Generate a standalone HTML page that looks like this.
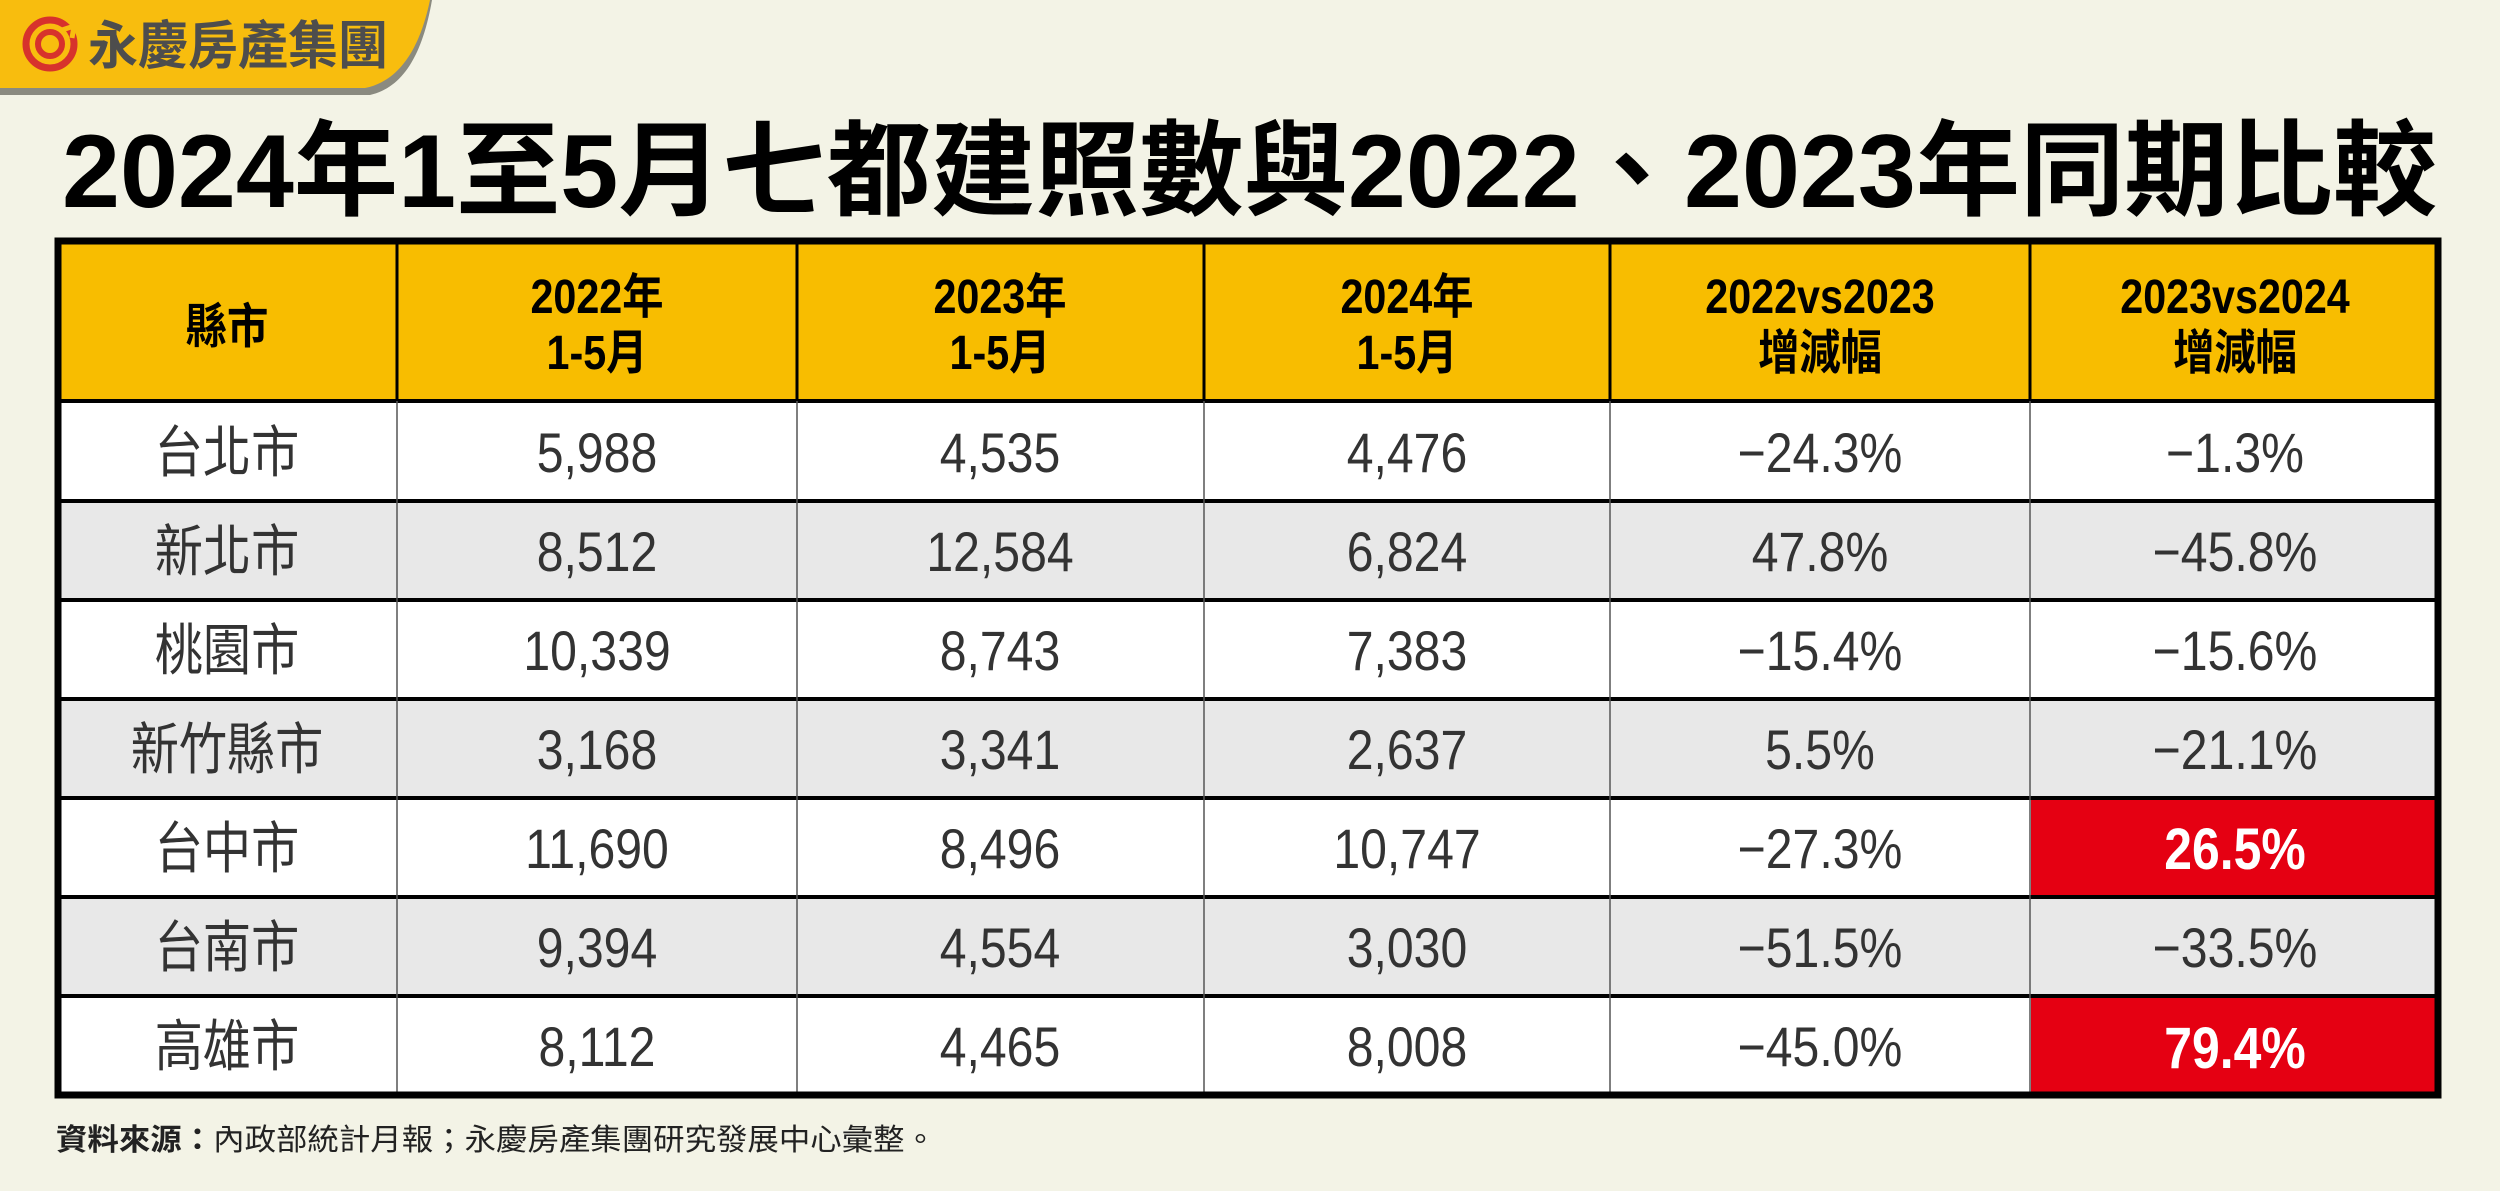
<!DOCTYPE html>
<html><head><meta charset="utf-8"><style>
html,body{margin:0;padding:0;background:#f3f3e6;}
svg{display:block;}
text{font-family:"Liberation Sans","Noto Sans CJK TC",sans-serif;}
.b text{transform-box:fill-box;transform-origin:center;transform:scaleX(0.86);}
</style></head><body>
<svg width="2500" height="1191" viewBox="0 0 2500 1191" xmlns="http://www.w3.org/2000/svg">
<rect width="2500" height="1191" fill="#f3f3e6"/>
<!-- logo tab -->
<path d="M0,0 H432 C425,40 410,86 370,95 H0 Z" fill="#8a8a80"/>
<path d="M0,0 H430 C422,38 405,80 365,88 H0 Z" fill="#f8bd0e"/>
<circle cx="50" cy="44" r="24" fill="none" stroke="#d7322c" stroke-width="7"/>
<circle cx="50" cy="44" r="12" fill="none" stroke="#d7322c" stroke-width="6"/>
<path d="M62,30 l12,-4 l-2,12" fill="none" stroke="#f8bd0e" stroke-width="5"/>
<text x="88" y="64" font-size="52" font-weight="bold" fill="#4d4d4d" textLength="300" lengthAdjust="spacingAndGlyphs">永慶房產集團</text>
<!-- title -->
<text x="62" y="207" font-size="104" font-weight="bold" fill="#000" textLength="2375" lengthAdjust="spacingAndGlyphs">2024年1至5月七都建照數與2022、2023年同期比較</text>
<!-- table -->
<rect x="56" y="239" width="2384" height="858" fill="#fff"/>
<rect x="56" y="239" width="2384" height="161" fill="#f8bd00"/>
<rect x="56" y="501" width="2384" height="99" fill="#e8e8e8"/>
<rect x="56" y="699" width="2384" height="99" fill="#e8e8e8"/>
<rect x="56" y="897" width="2384" height="99" fill="#e8e8e8"/>
<rect x="2031" y="800" width="405" height="97" fill="#e50012"/>
<rect x="2031" y="998" width="405" height="97" fill="#e50012"/>
<g stroke="#000" stroke-width="4">
<line x1="56" y1="401" x2="2440" y2="401"/>
<line x1="56" y1="501" x2="2440" y2="501"/>
<line x1="56" y1="600" x2="2440" y2="600"/>
<line x1="56" y1="699" x2="2440" y2="699"/>
<line x1="56" y1="798" x2="2440" y2="798"/>
<line x1="56" y1="897" x2="2440" y2="897"/>
<line x1="56" y1="996" x2="2440" y2="996"/>
</g>
<g stroke="#000" stroke-width="3">
<line x1="397" y1="239" x2="397" y2="401"/><line x1="797" y1="239" x2="797" y2="401"/>
<line x1="1204" y1="239" x2="1204" y2="401"/><line x1="1610" y1="239" x2="1610" y2="401"/>
<line x1="2030" y1="239" x2="2030" y2="401"/>
</g>
<g stroke="#555" stroke-width="1.5">
<line x1="397" y1="401" x2="397" y2="1097"/><line x1="797" y1="401" x2="797" y2="1097"/>
<line x1="1204" y1="401" x2="1204" y2="1097"/><line x1="1610" y1="401" x2="1610" y2="1097"/>
<line x1="2030" y1="401" x2="2030" y2="1097"/>
</g>
<rect x="58" y="241" width="2380" height="854" fill="none" stroke="#000" stroke-width="7"/>
<!-- header text -->
<g class="b" font-size="48" font-weight="bold" fill="#000" text-anchor="middle">
<text x="227" y="343">縣市</text>
<text x="597" y="313">2022年</text><text x="597" y="369">1-5月</text>
<text x="1000" y="313">2023年</text><text x="1000" y="369">1-5月</text>
<text x="1407" y="313">2024年</text><text x="1407" y="369">1-5月</text>
<text x="1820" y="313">2022vs2023</text><text x="1820" y="369">增減幅</text>
<text x="2235" y="313">2023vs2024</text><text x="2235" y="369">增減幅</text>
</g>
<!-- body -->
<g class="b" font-size="56" fill="#333" text-anchor="middle">
<text x="227" y="472">台北市</text><text x="597" y="472">5,988</text><text x="1000" y="472">4,535</text><text x="1407" y="472">4,476</text><text x="1820" y="472">−24.3%</text><text x="2235" y="472">−1.3%</text>
<text x="227" y="571">新北市</text><text x="597" y="571">8,512</text><text x="1000" y="571">12,584</text><text x="1407" y="571">6,824</text><text x="1820" y="571">47.8%</text><text x="2235" y="571">−45.8%</text>
<text x="227" y="670">桃園市</text><text x="597" y="670">10,339</text><text x="1000" y="670">8,743</text><text x="1407" y="670">7,383</text><text x="1820" y="670">−15.4%</text><text x="2235" y="670">−15.6%</text>
<text x="227" y="769">新竹縣市</text><text x="597" y="769">3,168</text><text x="1000" y="769">3,341</text><text x="1407" y="769">2,637</text><text x="1820" y="769">5.5%</text><text x="2235" y="769">−21.1%</text>
<text x="227" y="868">台中市</text><text x="597" y="868">11,690</text><text x="1000" y="868">8,496</text><text x="1407" y="868">10,747</text><text x="1820" y="868">−27.3%</text>
<text x="227" y="967">台南市</text><text x="597" y="967">9,394</text><text x="1000" y="967">4,554</text><text x="1407" y="967">3,030</text><text x="1820" y="967">−51.5%</text><text x="2235" y="967">−33.5%</text>
<text x="227" y="1066">高雄市</text><text x="597" y="1066">8,112</text><text x="1000" y="1066">4,465</text><text x="1407" y="1066">8,008</text><text x="1820" y="1066">−45.0%</text>
</g>
<g class="b" font-size="58" font-weight="bold" fill="#fff" text-anchor="middle">
<text x="2235" y="869">26.5%</text><text x="2235" y="1068">79.4%</text>
</g>
<!-- footnote -->
<text x="56" y="1150" font-size="30" fill="#222" textLength="880" lengthAdjust="spacingAndGlyphs"><tspan font-weight="bold">資料來源：</tspan>內政部統計月報；永慶房產集團研究發展中心彙整。</text>
</svg>
</body></html>
